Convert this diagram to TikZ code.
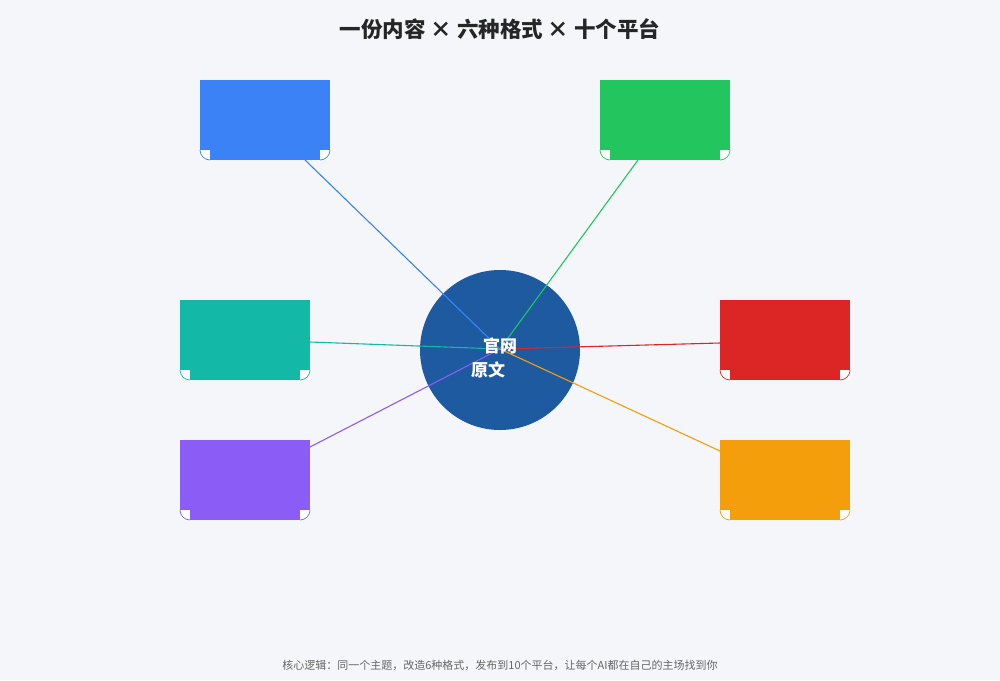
\documentclass[tikz,border=0pt]{standalone}
\usepackage{fontspec}
\setmainfont{Noto Sans CJK SC}
\begin{document}
\begin{tikzpicture}[x=1pt,y=-1pt,
  link/.style={line width=1.1pt}]
\definecolor{bg}{HTML}{F4F6FA}
\definecolor{cb}{HTML}{3B82F6}\definecolor{cg}{HTML}{22C55E}
\definecolor{ct}{HTML}{14B8A6}\definecolor{cr}{HTML}{DC2626}
\definecolor{cp}{HTML}{8B5CF6}\definecolor{co}{HTML}{F59E0B}
\definecolor{cc}{HTML}{1E5AA0}
\fill[bg] (0,0) rectangle (1000,680);
\useasboundingbox (0,0) rectangle (1000,680);
\node[font=\bfseries\fontsize{21.5}{25}\selectfont,text=black!85] (title) at (500,29) {一份内容 × 六种格式 × 十个平台};
\node[circle,fill=cc,minimum size=160pt,inner sep=0] (c) at (500,350) {};
\coordinate (hub) at (500,349);
\foreach \n/\x/\y/\col in {b/200/80/cb,g/600/80/cg,t/180/300/ct,r/720/300/cr,p/180/440/cp,o/720/440/co}{
  \fill[\col] (\x,\y) rectangle ++(130,80);
  \fill[white] (\x,\y+70) rectangle ++(10,10);
  \fill[white] (\x+120,\y+70) rectangle ++(10,10);
  \draw[\col,line width=0.7pt] (\x,\y+70) .. controls (\x,\y+75.5) and (\x+4.5,\y+80) .. (\x+10,\y+80);
  \draw[\col,line width=0.7pt] (\x+130,\y+70) .. controls (\x+130,\y+75.5) and (\x+125.5,\y+80) .. (\x+120,\y+80);
  \coordinate (\n) at (\x,\y);
}
\coordinate (eb) at (305,160);\coordinate (eg) at (638,160);
\coordinate (et) at (310,342);\coordinate (er) at (720,343);
\coordinate (ep) at (310,447);\coordinate (eo) at (720,451);
\draw[link,cb] (eb) -- (hub);
\draw[link,cg] (eg) -- (hub);
\draw[link,ct] (et) -- (hub);
\draw[link,cr] (er) -- (hub);
\draw[link,cp] (ep) -- (hub);
\draw[link,co] (eo) -- (hub);
\node[text=white,font=\bfseries\fontsize{17}{20}\selectfont] (l1) at (500,346) {官网};
\node[text=white,font=\bfseries\fontsize{17}{20}\selectfont] (l2) at (488,370) {原文};
\node[text=black!60,font=\fontsize{11}{13}\selectfont] (foot) at (500,665) {核心逻辑：同一个主题，改造6种格式，发布到10个平台，让每个AI都在自己的主场找到你};
\end{tikzpicture}
\end{document}
